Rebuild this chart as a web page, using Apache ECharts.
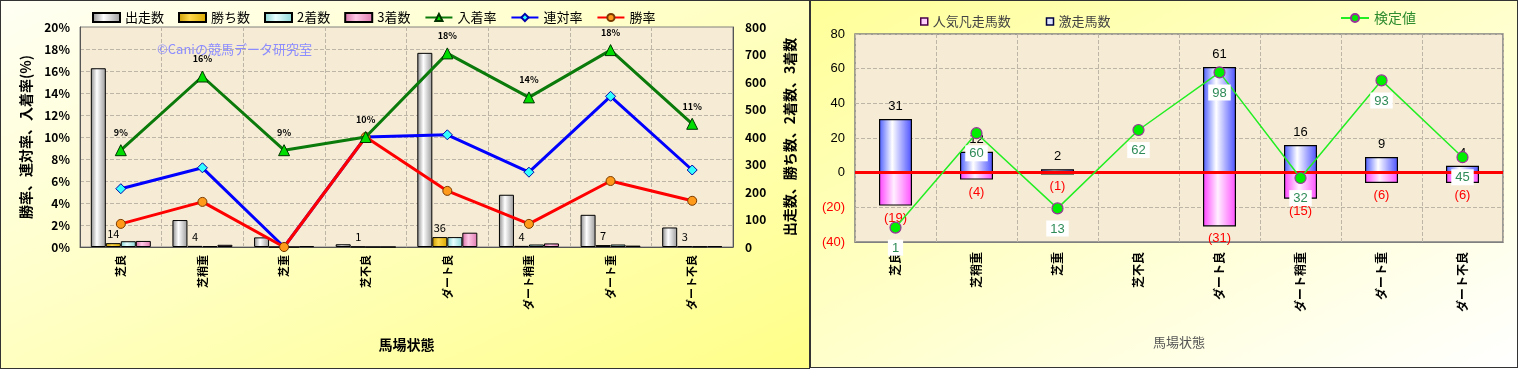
<!DOCTYPE html>
<html>
<head>
<meta charset="utf-8">
<script src="https://cdn.jsdelivr.net/npm/echarts@6/dist/echarts.min.js"></script>
<style>
html,body{margin:0;padding:0;background:#fff;width:1518px;height:369px;overflow:hidden;}
#lp{position:absolute;left:0;top:0;width:810px;height:369px;box-sizing:border-box;border:1px solid #333;
  background:linear-gradient(to bottom right,#fffff4 0%,#ffffc0 50%,#ffff88 100%);}
#rp{position:absolute;left:810px;top:0;width:708px;height:368px;box-sizing:border-box;border:1px solid #333;
  background:linear-gradient(to bottom right,#ffff99 0%,#ffffcc 50%,#ffffff 100%);}
#left{position:absolute;left:0;top:0;width:810px;height:369px;}
#right{position:absolute;left:810px;top:0;width:708px;height:368px;}
</style>
</head>
<body>
<div id="lp"></div>
<div id="rp"></div>
<div id="left"></div>
<div id="right"></div>
<script>
// ---------- data ----------
const categories = ['芝良','芝稍重','芝重','芝不良','ダート良','ダート稍重','ダート重','ダート不良'];
// left chart (counts on right axis)
const runners = [650, 98, 35, 10, 706, 190, 117, 71];
const wins    = [14, 4, 0, 1, 36, 4, 7, 3];
const seconds = [21, 3, 0, 0, 36, 9, 9, 2];
const thirds  = [22, 8, 3, 0, 52, 13, 5, 3];
// rates (%) on left axis
const placeRate  = [8.8, 15.5, 8.8, 10.0, 17.6, 13.6, 17.9, 11.2];
const rentaiRate = [5.3, 7.2, 0, 10.0, 10.2, 6.8, 13.7, 7.0];
const winRate    = [2.1, 4.1, 0, 10.0, 5.1, 2.1, 6.0, 4.2];
const leftRateTicks = {min:0, max:20, interval:2};
const leftCountTicks = {min:0, max:800, interval:100};
// right chart
const gekisou = [31, 12, 2, 0, 61, 16, 9, 4];
const bonsou  = [-19, -4, -1, 0, -31, -15, -6, -6];
const kentei  = [1, 60, 13, 62, 98, 32, 93, 45];
const rightTicks = {min:-40, max:80, interval:20};
const kenteiAxis = {min:-8, max:122};

const FONT = '"Noto Sans CJK JP","Noto Sans",sans-serif';
const G = echarts.graphic.LinearGradient;
function hgrad(a,b,c){return new G(0,0,1,0,[{offset:0,color:a},{offset:0.4,color:b},{offset:1,color:c}]);}
const gridLine = {show:true, lineStyle:{color:'#bdb5a5', type:'dashed', width:1}};

// ---------- left chart ----------
const lc = echarts.init(document.getElementById('left'), null, {renderer:'canvas'});
lc.setOption({
  animation:false,
  textStyle:{fontFamily:FONT},
  grid:{left:80, top:27, width:653, height:220, show:true, backgroundColor:'#f6ecd5', borderColor:'#808080', borderWidth:1},
  legend:{left:87, top:6, itemWidth:27, itemHeight:9, itemGap:14,
    textStyle:{fontSize:13, color:'#000', fontFamily:FONT},
    data:[{name:'出走数',icon:'rect'},{name:'勝ち数',icon:'rect'},{name:'2着数',icon:'rect'},{name:'3着数',icon:'rect'},
          {name:'入着率'},{name:'連対率'},{name:'勝率'}]},
  graphic:[{type:'text', left:157, top:43, z:100, style:{text:'©Caniの競馬データ研究室', fill:'#8c8cff', font:'13px '+FONT}}],
  xAxis:{type:'category', data:categories,
    axisLine:{lineStyle:{color:'#555'}}, axisTick:{show:false},
    axisLabel:{rotate:90, interval:0, fontSize:11, fontWeight:'bold', color:'#000', margin:8},
    splitLine:Object.assign({interval:0}, gridLine),
    name:'馬場状態', nameLocation:'middle', nameGap:91,
    nameTextStyle:{fontSize:14, fontWeight:'bold', color:'#000'}},
  yAxis:[
    {type:'value', min:leftRateTicks.min, max:leftRateTicks.max, interval:leftRateTicks.interval,
     axisLabel:{formatter:'{value}%', fontSize:12, fontWeight:'bold', color:'#000', margin:10},
     axisLine:{show:true, lineStyle:{color:'#555'}}, axisTick:{show:false}, splitLine:gridLine,
     name:'勝率、連対率、入着率(%)', nameLocation:'middle', nameRotate:90, nameGap:47,
     nameTextStyle:{fontSize:14, fontWeight:'bold', color:'#000'}},
    {type:'value', position:'right', min:leftCountTicks.min, max:leftCountTicks.max, interval:leftCountTicks.interval,
     axisLabel:{fontSize:12, fontWeight:'bold', color:'#000', margin:12},
     axisLine:{show:true, lineStyle:{color:'#555'}}, axisTick:{show:false}, splitLine:{show:false},
     name:'出走数、勝ち数、2着数、3着数', nameLocation:'middle', nameRotate:90, nameGap:50,
     nameTextStyle:{fontSize:14, fontWeight:'bold', color:'#000'}}
  ],
  series:[
    {name:'出走数', type:'bar', yAxisIndex:1, data:runners, barWidth:15, barGap:'0%',
     itemStyle:{color:hgrad('#8a8a8a','#ffffff','#9a9a9a'), borderColor:'#000', borderWidth:1}},
    {name:'勝ち数', type:'bar', yAxisIndex:1, data:wins, barWidth:15, barGap:'0%',
     itemStyle:{color:hgrad('#c89a00','#ffd84a','#d8a800'), borderColor:'#000', borderWidth:1},
     label:{show:true, position:'top', distance:4, fontSize:11, color:'#000',
       formatter:p=>p.value===0?'':String(p.value)}},
    {name:'2着数', type:'bar', yAxisIndex:1, data:seconds, barWidth:15, barGap:'0%',
     itemStyle:{color:hgrad('#7fd0d0','#e8ffff','#8cd8d8'), borderColor:'#000', borderWidth:1}},
    {name:'3着数', type:'bar', yAxisIndex:1, data:thirds, barWidth:15, barGap:'0%',
     itemStyle:{color:hgrad('#d66ea6','#ffc8e6','#e07ab0'), borderColor:'#000', borderWidth:1}},
    {name:'入着率', type:'line', yAxisIndex:0, data:placeRate, z:5,
     lineStyle:{color:'#0a7a0a', width:3}, symbol:'triangle', symbolSize:11,
     itemStyle:{color:'#00dd00', borderColor:'#003300', borderWidth:1},
     label:{show:true, position:'top', distance:7, fontSize:9, fontWeight:'bold', color:'#000',
       formatter:p=>Math.round(p.value)+'%'}},
    {name:'連対率', type:'line', yAxisIndex:0, data:rentaiRate, z:4,
     lineStyle:{color:'#0000ff', width:3}, symbol:'diamond', symbolSize:10,
     itemStyle:{color:'#33ffff', borderColor:'#0000aa', borderWidth:1}},
    {name:'勝率', type:'line', yAxisIndex:0, data:winRate, z:4,
     lineStyle:{color:'#ff0000', width:3}, symbol:'circle', symbolSize:9,
     itemStyle:{color:'#ff9a1a', borderColor:'#7a3a00', borderWidth:1}}
  ]
});

// ---------- right chart ----------
const rc = echarts.init(document.getElementById('right'), null, {renderer:'canvas'});
rc.setOption({
  animation:false,
  textStyle:{fontFamily:FONT},
  grid:{left:45, top:34, width:648, height:208, show:true, backgroundColor:'#f6ecd5', borderColor:'#808080', borderWidth:1.5},
  legend:[
    {left:105, top:10, itemWidth:7, itemHeight:7, itemGap:35,
     textStyle:{fontSize:13, color:'#444', fontFamily:FONT},
     data:[{name:'人気凡走馬数', icon:'rect', itemStyle:{color:'#ffd0ff', borderColor:'#4a004a', borderWidth:1.5}},
           {name:'激走馬数', icon:'rect', itemStyle:{color:'#dde4ff', borderColor:'#000040', borderWidth:1.5}}]},
    {left:525, top:6, itemWidth:28, itemHeight:10,
     textStyle:{fontSize:14, color:'#2e8b2e', fontFamily:FONT},
     data:[{name:'検定値'}]}
  ],
  xAxis:{type:'category', data:categories,
    axisLine:{onZero:false, lineStyle:{color:'#808080'}}, axisTick:{show:false},
    axisLabel:{rotate:90, interval:0, fontSize:12, fontWeight:'bold', color:'#000', margin:10},
    splitLine:Object.assign({interval:0}, gridLine),
    name:'馬場状態', nameLocation:'middle', nameGap:94,
    nameTextStyle:{fontSize:13, color:'#555'}},
  yAxis:[
    {type:'value', min:rightTicks.min, max:rightTicks.max, interval:rightTicks.interval,
     axisLabel:{fontSize:13, margin:10, fontFamily:'"Liberation Sans",Arial,sans-serif',
       formatter:v=>v<0?'('+(-v)+')':String(v), color:v=>Number(v)<0?'#ff0000':'#000'},
     axisLine:{show:false}, axisTick:{show:false}, splitLine:gridLine},
    {type:'value', min:kenteiAxis.min, max:kenteiAxis.max, show:false, splitLine:{show:false}}
  ],
  series:[
    {name:'人気凡走馬数', type:'bar', data:bonsou, barWidth:33, barGap:'-100%',
     itemStyle:{color:new G(0,0,1,0,[{offset:0,color:'#ff40ff'},{offset:0.45,color:'#fff0ff'},{offset:1,color:'#ff50ff'}]),
       borderColor:'#000', borderWidth:1.2},
     label:{show:true, position:'bottom', distance:6, fontSize:13, color:'#ff0000',
       fontFamily:'"Liberation Sans",Arial,sans-serif',
       formatter:p=>p.value===0?'':'('+Math.abs(p.value)+')'},
     markLine:{silent:true, symbol:'none', z:3, data:[{yAxis:0}],
       lineStyle:{color:'#ff0000', width:3, type:'solid'}, label:{show:false}}},
    {name:'激走馬数', type:'bar', data:gekisou, barWidth:33, barGap:'-100%',
     itemStyle:{color:new G(0,0,1,0,[{offset:0,color:'#4a5cff'},{offset:0.4,color:'#ffffff'},{offset:1,color:'#4a50ff'}]),
       borderColor:'#000', borderWidth:1.2},
     label:{show:true, position:'top', distance:6, fontSize:13, color:'#000',
       fontFamily:'"Liberation Sans",Arial,sans-serif',
       formatter:p=>p.value===0?'':String(p.value)}},
    {name:'検定値', type:'line', yAxisIndex:1, data:kentei, z:6,
     lineStyle:{color:'#22ee22', width:1.5}, symbol:'circle', symbolSize:11,
     itemStyle:{color:'#00ee00', borderColor:'#993399', borderWidth:1.2},
     label:{show:true, position:'bottom', distance:6, fontSize:13, color:'#2e8b57',
       fontFamily:'"Liberation Sans",Arial,sans-serif',
       backgroundColor:'#ffffff', padding:[2,4,1,4]}}
  ]
});
</script>
</body>
</html>
